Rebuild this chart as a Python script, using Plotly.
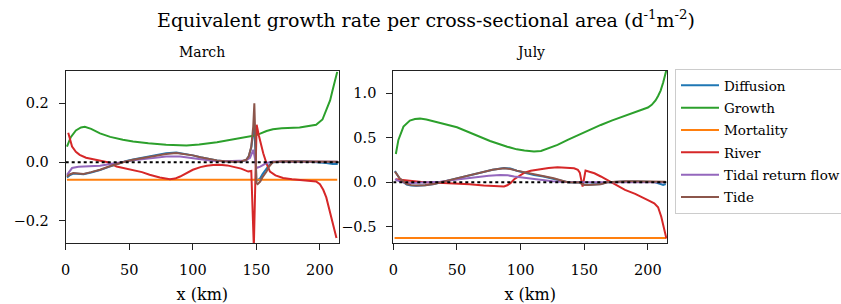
import plotly.graph_objects as go

W, H = 841, 304
FONT = "DejaVu Serif"
OFF = 0  # page body margin removed via post_script

# ---------------- data: March ----------------
mar_growth_x = [1,4,8,12,15,20,27,35,45,53,65,79,95,105,119,132,145,148,150,153,158,163,170,184,197,202,205,208,210,212,213.6]
mar_growth_y = [0.053,0.085,0.108,0.118,0.12,0.113,0.098,0.086,0.076,0.070,0.064,0.059,0.057,0.060,0.068,0.078,0.087,0.089,0.092,0.097,0.106,0.112,0.115,0.118,0.127,0.145,0.177,0.21,0.245,0.28,0.307]

mar_mort_x = [1, 213.6]
mar_mort_y = [-0.060, -0.060]

mar_river_x = [2,3.5,5,8,11,16,22,27,33,40,47,53,60,66,74,82,86,90,95,100,106,111,116,121,127,132,138,143.6,146,148,150.2,152,155.4,158,160.7,165,171,178,184,190,197,200,202.6,205,208,211,213]
mar_river_y = [0.10,0.075,0.053,0.035,0.025,0.015,0.009,0.006,0.0,-0.015,-0.022,-0.026,-0.034,-0.043,-0.052,-0.058,-0.056,-0.049,-0.038,-0.026,-0.017,-0.012,-0.010,-0.009,-0.011,-0.015,-0.022,-0.032,-0.030,-0.29,0.127,0.09,0.03,-0.005,-0.032,-0.045,-0.054,-0.058,-0.060,-0.062,-0.066,-0.075,-0.094,-0.12,-0.173,-0.22,-0.258]

mar_tide_x = [1,3,6,10,14,20,27,34,40,47,53,60,66,72,79,87,95,100,106,112,119,125,132,138,142,144,146,147.5,148.4,149.3,150,151,153,155,158,160,163,170,180,190,200,210,214]
mar_tide_y = [-0.049,-0.042,-0.037,-0.038,-0.040,-0.034,-0.026,-0.015,-0.006,0.002,0.008,0.014,0.019,0.024,0.028,0.031,0.027,0.023,0.017,0.011,0.006,0.003,0.001,0.002,0.008,0.02,0.053,0.12,0.2,0.06,-0.071,-0.075,-0.066,-0.05,-0.032,-0.015,0.0,0.003,0.003,0.003,0.003,0.002,0.001]

mar_tidal_x = [1,3,5,10,20,27,35,45,53,65,79,90,100,106,115,125,135,142,145,147.6,149,150,153,158,163,175,190,214]
mar_tidal_y = [-0.043,-0.03,-0.02,-0.016,-0.013,-0.012,-0.006,0.002,0.006,0.012,0.019,0.019,0.014,0.010,0.005,0.003,0.004,0.006,0.015,0.042,0.01,-0.02,-0.015,-0.003,0.002,0.002,0.001,0.001]

mar_diff_x = [1,3,6,10,14,20,27,34,40,47,53,60,66,72,79,87,95,100,106,112,119,125,132,138,142,144,146,147.5,148.4,149.3,150,151,153,155,158,160,163,170,180,190,200,205,210,214]
mar_diff_y = [-0.052,-0.045,-0.039,-0.040,-0.041,-0.035,-0.027,-0.016,-0.006,0.003,0.009,0.015,0.020,0.025,0.030,0.033,0.028,0.023,0.017,0.011,0.006,0.003,0.001,0.002,0.007,0.02,0.05,0.10,0.12,0.03,-0.06,-0.062,-0.055,-0.04,-0.022,-0.01,0.0,0.002,0.003,0.002,0.0,-0.003,-0.006,-0.006]

# ---------------- data: July ----------------
jul_growth_x = [2,4,8,13,17,21,26,32,40,50,63,76,89.5,97,103,110.5,116,121,129,137,147,155,163,172,182,190,195,200,203,206,208,210,212,213.5,214.5]
jul_growth_y = [0.318,0.476,0.625,0.693,0.71,0.715,0.705,0.68,0.655,0.618,0.543,0.464,0.40,0.37,0.356,0.345,0.352,0.375,0.42,0.476,0.543,0.595,0.644,0.695,0.745,0.785,0.812,0.84,0.87,0.92,0.97,1.03,1.12,1.2,1.26]

jul_mort_x = [1, 214.5]
jul_mort_y = [-0.625, -0.625]

jul_river_x = [2,5,8,15,24,35,50,60,71,80,84,87,89.5,92,95,99,103,108,116,122,129,136,142,145,146.5,148.7,150,151,154,158,163,168,175,182,190,195,200,205,208,210.5,212.5,214.5]
jul_river_y = [0.034,0.03,0.026,0.015,0.0,-0.005,-0.011,-0.022,-0.037,-0.046,-0.049,-0.046,-0.034,-0.01,0.034,0.075,0.109,0.13,0.15,0.16,0.169,0.166,0.157,0.14,0.109,-0.049,0.05,0.131,0.118,0.101,0.065,0.026,-0.03,-0.086,-0.13,-0.169,-0.2,-0.236,-0.28,-0.386,-0.5,-0.63]

jul_tide_x = [1.3,3,5,8,10.5,14,18,25,32,40,50,60,68,78,87,92,97,104,110.5,118,126,132,137,142,146,148,150,153,158,163,168,175,182,190,200,210,214]
jul_tide_y = [0.12,0.09,0.045,0.01,-0.019,-0.032,-0.037,-0.032,-0.019,0.01,0.045,0.08,0.109,0.14,0.157,0.15,0.131,0.112,0.094,0.07,0.045,0.02,0.0,-0.002,0.0,-0.019,-0.03,-0.03,-0.026,-0.022,0.0,0.008,0.011,0.011,0.011,0.008,0.005]

jul_tidal_x = [1.3,5,10.5,20,37,50,63,75,84,90,95,105,116,125,135,150,170,214]
jul_tidal_y = [0.034,0.01,-0.011,-0.005,0.007,0.03,0.056,0.072,0.082,0.078,0.064,0.045,0.026,0.012,0.003,0.0,0.0,0.0]

jul_diff_x = [1.3,3,5,8,10.5,14,18,25,32,40,50,60,68,78,87,92,97,104,110.5,118,126,132,137,142,146,148,150,153,158,163,168,175,182,190,200,205,210,212,214]
jul_diff_y = [0.127,0.09,0.04,0.0,-0.025,-0.035,-0.038,-0.032,-0.02,0.008,0.042,0.08,0.11,0.14,0.16,0.155,0.13,0.105,0.082,0.065,0.04,0.018,0.0,-0.003,0.0,-0.015,-0.025,-0.028,-0.025,-0.02,0.0,0.006,0.01,0.01,0.008,0.002,-0.02,-0.03,-0.02]

x_range = [0, 215]
mar_y_range = [-0.275, 0.31]
jul_y_range = [-0.682, 1.25]
mar_yticks = [-0.2, 0.0, 0.2]
jul_yticks = [-0.5, 0.0, 0.5, 1.0]
x_ticks = [0, 50, 100, 150, 200]

names = ["Diffusion", "Growth", "Mortality", "River", "Tidal return flow", "Tide"]
colors = ["#1f77b4", "#2ca02c", "#ff7f0e", "#d62728", "#9467bd", "#8c564b"]

march = [(mar_diff_x, mar_diff_y), (mar_growth_x, mar_growth_y), (mar_mort_x, mar_mort_y),
         (mar_river_x, mar_river_y), (mar_tidal_x, mar_tidal_y), (mar_tide_x, mar_tide_y)]
july = [(jul_diff_x, jul_diff_y), (jul_growth_x, jul_growth_y), (jul_mort_x, jul_mort_y),
        (jul_river_x, jul_river_y), (jul_tidal_x, jul_tidal_y), (jul_tide_x, jul_tide_y)]

fig = go.Figure()
for i, (nm, c) in enumerate(zip(names, colors)):
    x, y = march[i]
    fig.add_trace(go.Scatter(x=x, y=y, mode="lines", name=nm, legendgroup=nm,
                             line=dict(color=c, width=2), xaxis="x", yaxis="y", showlegend=True))
for i, (nm, c) in enumerate(zip(names, colors)):
    x, y = july[i]
    fig.add_trace(go.Scatter(x=x, y=y, mode="lines", name=nm, legendgroup=nm,
                             line=dict(color=c, width=2), xaxis="x2", yaxis="y2", showlegend=False))
# zero reference lines
fig.add_trace(go.Scatter(x=x_range, y=[0, 0], mode="lines", line=dict(color="black", width=2, dash="dot"),
                         xaxis="x", yaxis="y", showlegend=False, hoverinfo="skip"))
fig.add_trace(go.Scatter(x=x_range, y=[0, 0], mode="lines", line=dict(color="black", width=2, dash="dot"),
                         xaxis="x2", yaxis="y2", showlegend=False, hoverinfo="skip"))

def px_x(p):
    return (p - OFF) / W

def px_y(p):
    return 1 - (p - OFF) / H

axis_common = dict(showline=True, linecolor="#222", linewidth=1, mirror=True, ticks="outside",
                   ticklen=6, tickcolor="#222", showgrid=False, zeroline=False,
                   tickfont=dict(family=FONT, size=14.5, color="black"))
xtitle = dict(text="x (km)", font=dict(family=FONT, size=16, color="black"), standoff=11)

fig.update_layout(
    width=W, height=H,
    margin=dict(l=0, r=0, t=0, b=0, autoexpand=False),
    paper_bgcolor="white", plot_bgcolor="white",
    showlegend=True,
    title=dict(text="Equivalent growth rate per cross-sectional area (d<sup>-1</sup>m<sup>-2</sup>)",
               x=px_x(426), xanchor="center", y=px_y(20), yanchor="middle",
               font=dict(family=FONT, size=19, color="black")),
    xaxis=dict(domain=[px_x(65.7), px_x(339)], range=x_range, tickvals=x_ticks, anchor="y",
               title=xtitle, ticklabelstandoff=8, **axis_common),
    yaxis=dict(domain=[px_y(243), px_y(71)], range=mar_y_range, tickvals=mar_yticks,
               tickformat=".1f", anchor="x", ticklabelstandoff=7, **axis_common),
    xaxis2=dict(domain=[px_x(393.3), px_x(667)], range=x_range, tickvals=x_ticks, anchor="y2",
                title=xtitle, ticklabelstandoff=8, **axis_common),
    yaxis2=dict(domain=[px_y(243), px_y(71)], range=jul_y_range, tickvals=jul_yticks,
                tickformat=".1f", anchor="x2", ticklabelstandoff=7, **axis_common),
    legend=dict(x=px_x(675), y=px_y(69), xanchor="left", yanchor="top",
                bordercolor="#cccccc", borderwidth=1, bgcolor="white",
                font=dict(family=FONT, size=13.5, color="black"),
                tracegroupgap=1.8, itemwidth=38),
    annotations=[
        dict(text="March", x=(px_x(65.7) + px_x(339)) / 2, y=px_y(52), xref="paper", yref="paper",
             showarrow=False, xanchor="center", yanchor="middle", font=dict(family=FONT, size=14, color="black")),
        dict(text="July", x=(px_x(393.3) + px_x(667)) / 2, y=px_y(52), xref="paper", yref="paper",
             showarrow=False, xanchor="center", yanchor="middle", font=dict(family=FONT, size=14, color="black")),
    ],
)

fig.write_html("out.html", config={"displayModeBar": False},
               post_script="document.body.style.margin='0px';document.body.style.overflow='hidden';")
